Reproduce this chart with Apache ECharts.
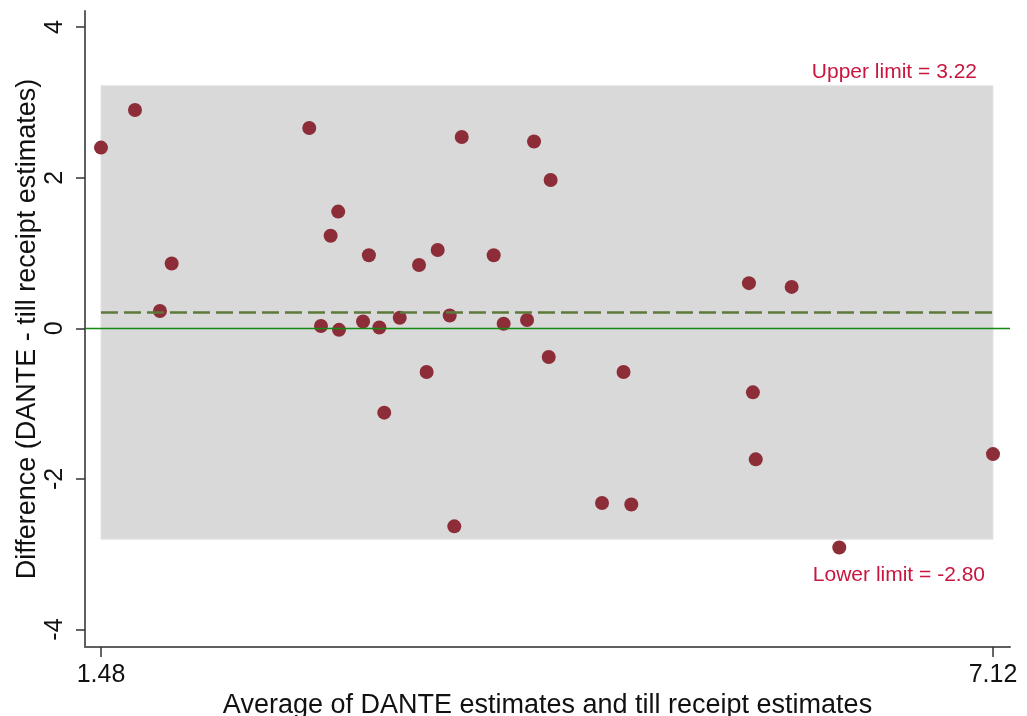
<!DOCTYPE html>
<html>
<head>
<meta charset="utf-8">
<script src="https://cdn.jsdelivr.net/npm/echarts@6/dist/echarts.min.js"></script>
<style>
  html, body { margin: 0; padding: 0; background: #fff; }
  #chart { width: 1027px; height: 716px; }
</style>
</head>
<body>
<div id="chart"></div>
<script>
// Averages (x) and differences (y) of the two estimates
const avgValues = [
  1.48, 1.695, 1.853, 1.927, 2.797, 2.871, 2.932, 2.980, 2.985, 3.137,
  3.174, 3.240, 3.271, 3.369, 3.491, 3.539, 3.609, 3.685, 3.714, 3.761,
  3.963, 4.026, 4.174, 4.218, 4.311, 4.323, 4.648, 4.784, 4.833, 5.577,
  5.602, 5.620, 5.847, 6.148, 7.12
];
const diffValues = [
  2.40, 2.90, 0.23, 0.86, 2.66, 0.03, 1.23, 1.55, -0.02, 0.09,
  0.97, 0.01, -1.12, 0.14, 0.84, -0.58, 1.04, 0.17, -2.63, 2.54,
  0.97, 0.06, 0.11, 2.48, -0.38, 1.97, -2.32, -0.58, -2.34, 0.60,
  -0.85, -1.74, 0.55, -2.91, -1.67
];

// Limits of agreement and mean difference
const upperLimit = 3.22;
const lowerLimit = -2.80;
const meanDiff = 0.21;

// Tick labels
const xTicks = [1.48, 7.12];
const yTicks = [-4, -2, 0, 2, 4];

const points = avgValues.map((x, i) => [x, diffValues[i]]);
const xLo = Math.min(...avgValues);
const xHi = Math.max(...avgValues);

const FONT = '"Liberation Sans", Arial, sans-serif';
const axisCol = '#5f5f5f';
const labelRed = '#C8163F';

const chart = echarts.init(document.getElementById('chart'), null, { renderer: 'canvas' });

chart.setOption({
  backgroundColor: '#ffffff',
  animation: false,
  grid: { left: 85, right: 17, top: 11, bottom: 69, containLabel: false, outerBoundsMode: 'none' },
  xAxis: {
    type: 'value',
    min: 1.379,
    max: 7.2275,
    name: 'Average of DANTE estimates and till receipt estimates',
    nameLocation: 'middle',
    nameGap: 45,
    nameMoveOverlap: false,
    nameTextStyle: { fontFamily: FONT, fontSize: 27, color: '#111' },
    axisLine: { show: true, onZero: false, lineStyle: { color: axisCol, width: 2 } },
    axisTick: { show: true, length: 10, customValues: xTicks, lineStyle: { color: '#333', width: 1.5 } },
    axisLabel: {
      customValues: xTicks,
      formatter: v => v.toFixed(2),
      fontFamily: FONT, fontSize: 25, color: '#111', margin: 16
    },
    splitLine: { show: false }
  },
  yAxis: {
    type: 'value',
    min: -4.232,
    max: 4.214,
    name: 'Difference (DANTE - till receipt estimates)',
    nameLocation: 'middle',
    nameGap: 44,
    nameMoveOverlap: false,
    nameTextStyle: { fontFamily: FONT, fontSize: 27, color: '#111' },
    axisLine: { show: true, onZero: false, lineStyle: { color: axisCol, width: 2 } },
    axisTick: { show: true, length: 9, customValues: yTicks, lineStyle: { color: '#333', width: 1.5 } },
    axisLabel: {
      customValues: yTicks,
      rotate: 90,
      fontFamily: FONT, fontSize: 25, color: '#111', margin: 17
    },
    splitLine: { show: false }
  },
  series: [
    {
      // shaded region between the limits of agreement
      name: 'band',
      type: 'line',
      data: [],
      z: 1,
      silent: true,
      markArea: {
        silent: true,
        itemStyle: { color: '#D9D9D9', borderColor: '#E3E3E3', borderWidth: 1 },
        data: [[{ coord: [xLo, upperLimit] }, { coord: [xHi, lowerLimit] }]]
      }
    },
    {
      name: 'pairs',
      type: 'scatter',
      data: points,
      z: 2,
      symbol: 'circle',
      symbolSize: 14,
      itemStyle: { color: '#8C2D38', opacity: 1 }
    },
    {
      // mean difference, zero line and limit labels
      name: 'refs',
      type: 'line',
      data: [],
      z: 3,
      silent: true,
      markLine: {
        silent: true,
        symbol: 'none',
        animation: false,
        data: [
          [
            { coord: [xLo, meanDiff], lineStyle: { color: '#5E7A3B', width: 2.6, type: [17, 6] }, label: { show: false } },
            { coord: [xHi, meanDiff] }
          ],
          {
            yAxis: 0,
            lineStyle: { color: '#138A13', width: 1.4, type: 'solid' },
            label: { show: false }
          },
          [
            {
              coord: [xLo, upperLimit],
              lineStyle: { color: 'rgba(0,0,0,0)', width: 0 },
              label: {
                show: true,
                position: 'insideEndTop',
                distance: 0,
                padding: [0, 16, 3, 0],
                formatter: 'Upper limit = ' + upperLimit.toFixed(2),
                fontFamily: FONT, fontSize: 21, color: labelRed
              }
            },
            { coord: [xHi, upperLimit] }
          ],
          [
            {
              coord: [xLo, lowerLimit],
              lineStyle: { color: 'rgba(0,0,0,0)', width: 0 },
              label: {
                show: true,
                position: 'insideEndBottom',
                distance: 0,
                padding: [26, 8, 0, 0],
                formatter: 'Lower limit = ' + lowerLimit.toFixed(2),
                fontFamily: FONT, fontSize: 21, color: labelRed
              }
            },
            { coord: [xHi, lowerLimit] }
          ]
        ]
      }
    }
  ]
});
</script>
</body>
</html>
